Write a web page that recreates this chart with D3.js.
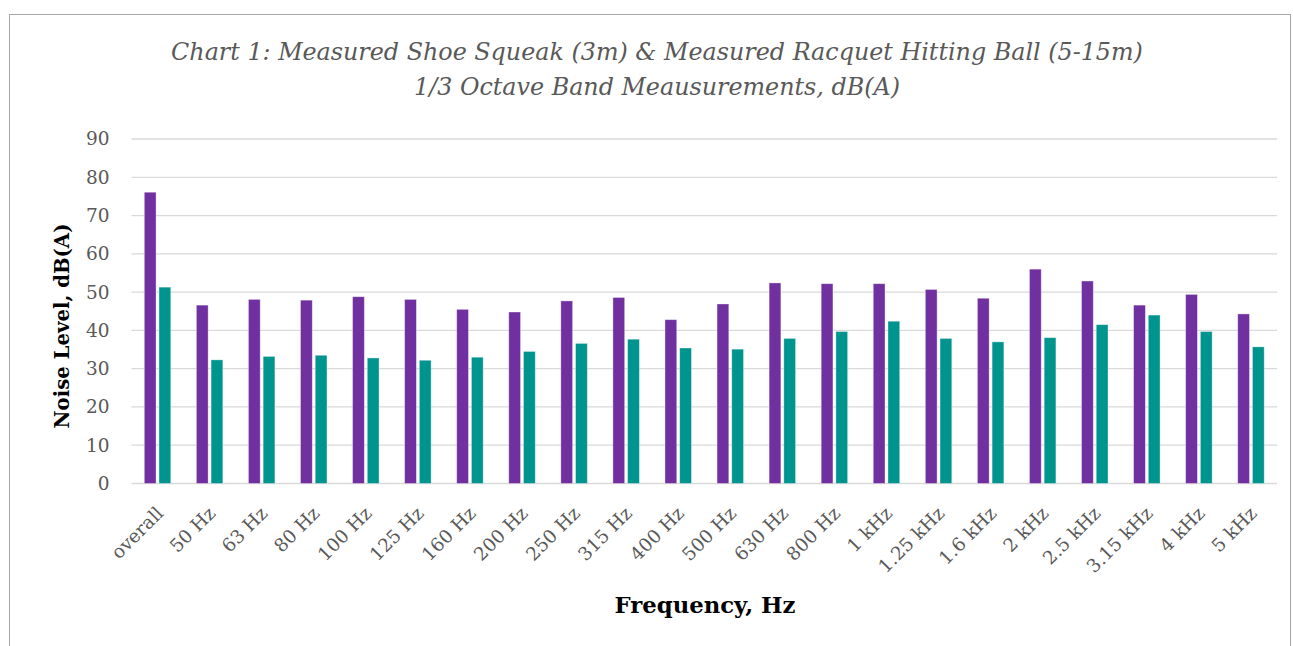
<!DOCTYPE html>
<html>
<head>
<meta charset="utf-8">
<script src="https://cdn.jsdelivr.net/npm/d3@7/dist/d3.min.js"></script>
<style>
  html, body { margin: 0; padding: 0; background: #fff; }
  svg { display: block; }
</style>
</head>
<body>
<svg id="chart" width="1293" height="646"></svg>
<script>
// Frequency bands (1/3 octave) plus the overall level
const categories = ["overall", "50 Hz", "63 Hz", "80 Hz", "100 Hz", "125 Hz", "160 Hz", "200 Hz",
  "250 Hz", "315 Hz", "400 Hz", "500 Hz", "630 Hz", "800 Hz", "1 kHz", "1.25 kHz", "1.6 kHz",
  "2 kHz", "2.5 kHz", "3.15 kHz", "4 kHz", "5 kHz"];

// Measured shoe squeak at 3 m, dB(A)
const shoeSqueak = [76.1, 46.6, 48.1, 47.9, 48.8, 48.1, 45.5, 44.8, 47.7, 48.6, 42.8, 46.9,
  52.4, 52.2, 52.2, 50.7, 48.4, 56.0, 52.9, 46.6, 49.4, 44.3];

// Measured racquet hitting ball at 5-15 m, dB(A)
const racquetHit = [51.3, 32.3, 33.2, 33.5, 32.8, 32.2, 33.0, 34.5, 36.6, 37.7, 35.4, 35.1,
  37.9, 39.7, 42.4, 37.9, 37.0, 38.1, 41.5, 44.0, 39.7, 35.7];

const seriesNames = ["Shoe Squeak", "Racquet Hitting Ball"];
const seriesColors = ["#7030A0", "#00948F"];
const yTicks = [0, 10, 20, 30, 40, 50, 60, 70, 80, 90];

const titleLines = [
  "Chart 1: Measured Shoe Squeak (3m) & Measured Racquet Hitting Ball (5-15m)",
  "1/3 Octave Band Meausurements, dB(A)"
];

const W = 1293, H = 646;
const margin = { top: 139, right: 16, bottom: 162.5, left: 131.5 };
const svg = d3.select("#chart");
const serif = "'DejaVu Serif', 'Liberation Serif', serif";

// Outer chart frame
svg.append("rect")
  .attr("x", 9.5).attr("y", 14.5)
  .attr("width", 1281).attr("height", 700)
  .attr("fill", "none").attr("stroke", "#a6a6a6").attr("stroke-width", 1);

const x = d3.scaleBand()
  .domain(categories)
  .range([margin.left, W - margin.right]);

const xSub = d3.scaleBand()
  .domain(seriesNames)
  .range([0, x.bandwidth()])
  .paddingInner(0.2)
  .paddingOuter(0.87);

const y = d3.scaleLinear()
  .domain([0, 90])
  .range([H - margin.bottom, margin.top]);

// Horizontal gridlines
svg.append("g")
  .selectAll("line")
  .data(yTicks)
  .join("line")
  .attr("x1", margin.left).attr("x2", W - margin.right)
  .attr("y1", d => y(d)).attr("y2", d => y(d))
  .attr("stroke", "#d9d9d9").attr("stroke-width", 1.3);

// Y axis tick labels
const yAxis = d3.axisLeft(y).tickValues(yTicks).tickSize(0).tickPadding(0);
const gy = svg.append("g")
  .attr("transform", `translate(${margin.left - 22},0)`)
  .call(yAxis);
gy.select(".domain").remove();
gy.selectAll("text")
  .attr("font-family", serif)
  .attr("font-size", 18.5)
  .attr("fill", "#595959");

// Bars
const rows = categories.map((c, i) => ({ cat: c, values: [shoeSqueak[i], racquetHit[i]] }));
const groups = svg.append("g")
  .selectAll("g")
  .data(rows)
  .join("g")
  .attr("transform", d => `translate(${x(d.cat)},0)`);

groups.selectAll("rect")
  .data(d => d.values.map((v, k) => ({ name: seriesNames[k], value: v, k })))
  .join("rect")
  .attr("x", d => xSub(d.name))
  .attr("width", xSub.bandwidth())
  .attr("y", d => y(d.value))
  .attr("height", d => y(0) - y(d.value))
  .attr("fill", d => seriesColors[d.k])
  .attr("stroke", "#ffffff")
  .attr("stroke-opacity", 0.45)
  .attr("stroke-width", 0.8);

// X axis tick labels, rotated 45 degrees
const xAxis = d3.axisBottom(x).tickSize(0).tickPadding(0);
const gx = svg.append("g")
  .attr("transform", `translate(0,${H - margin.bottom})`)
  .call(xAxis);
gx.select(".domain").remove();
gx.selectAll("text")
  .attr("font-family", serif)
  .attr("font-size", 18.5)
  .attr("fill", "#595959")
  .attr("text-anchor", "end")
  .attr("dy", null)
  .attr("y", 0)
  .attr("transform", "translate(7,31) rotate(-45)");

// Shrink or grow a text element's font so it spans the given width
function fitWidth(sel, width) {
  const node = sel.node();
  const fs = parseFloat(sel.attr("font-size"));
  const w = node.getComputedTextLength();
  sel.attr("font-size", (fs * width / w).toFixed(2));
}

// Title
const t1 = svg.append("text")
  .attr("x", 657).attr("y", 60)
  .attr("text-anchor", "middle")
  .attr("font-family", serif).attr("font-style", "italic")
  .attr("font-size", 24).attr("fill", "#595959")
  .text(titleLines[0]);
fitWidth(t1, 972);
const t2 = svg.append("text")
  .attr("x", 657).attr("y", 95)
  .attr("text-anchor", "middle")
  .attr("font-family", serif).attr("font-style", "italic")
  .attr("font-size", +t1.attr("font-size")).attr("fill", "#595959")
  .text(titleLines[1]);

// Axis titles
const yt = svg.append("text")
  .attr("transform", "translate(69,326) rotate(-90)")
  .attr("text-anchor", "middle")
  .attr("font-family", serif).attr("font-weight", "bold")
  .attr("font-size", 20).attr("fill", "#000")
  .text("Noise Level, dB(A)");
fitWidth(yt, 205);

const xt = svg.append("text")
  .attr("x", 705).attr("y", 613)
  .attr("text-anchor", "middle")
  .attr("font-family", serif).attr("font-weight", "bold")
  .attr("font-size", 20).attr("fill", "#000")
  .text("Frequency, Hz");
fitWidth(xt, 181);
</script>
</body>
</html>
